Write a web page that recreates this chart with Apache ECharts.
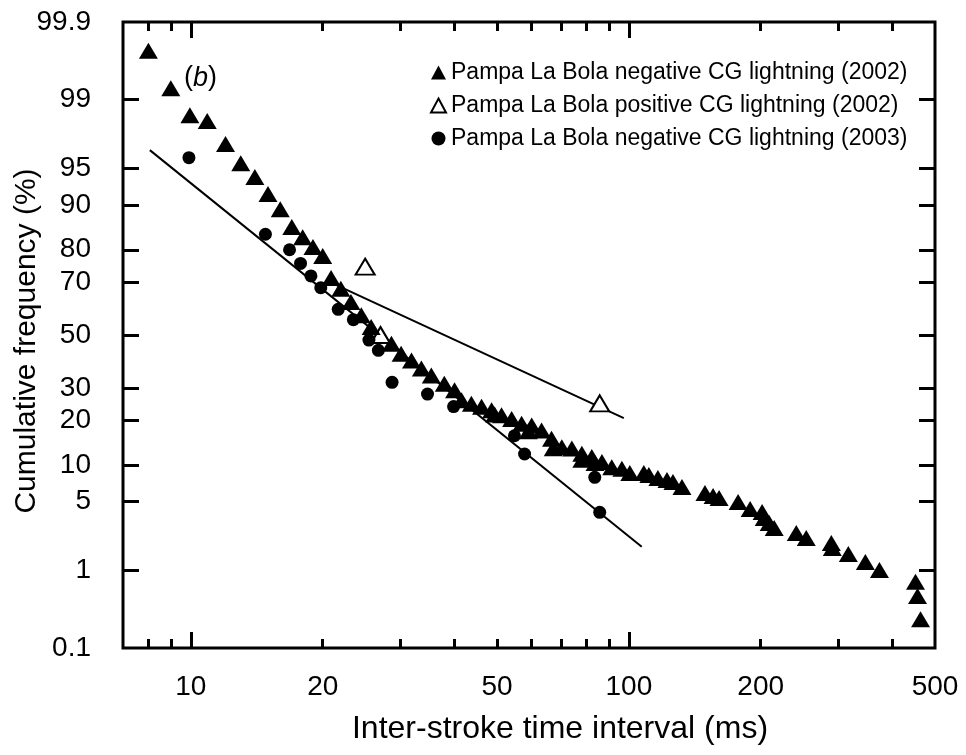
<!DOCTYPE html>
<html>
<head>
<meta charset="utf-8">
<script src="https://cdn.jsdelivr.net/npm/echarts@6/dist/echarts.min.js"></script>
<style>html,body{margin:0;padding:0;background:#fff}#c{width:966px;height:755px}</style>
</head>
<body>
<div id="c"></div>
<script>
// ---- data (x: inter-stroke interval in ms, y: cumulative frequency in %) ----
const xTickLabels = [10, 20, 50, 100, 200, 500];
const xMajorTicks = [10, 100];
const xMinorTicks = [8, 9, 20, 30, 40, 50, 60, 70, 80, 90, 200, 300, 400];
const yTickLabels = [0.1, 1, 5, 10, 20, 30, 50, 70, 80, 90, 95, 99, 99.9];
const yTicks = [1, 5, 10, 20, 30, 50, 70, 80, 90, 95, 99];

const negative2002 = [
  [8.0, 99.75], [9.0, 99.26], [9.95, 98.5], [10.9, 98.27], [12.0, 97.03], [13.0, 95.5],
  [14.0, 94.06], [15.0, 91.8], [16.0, 89.3], [17.0, 85.7], [18.0, 83.3], [19.0, 80.75],
  [20.0, 78.2], [20.9, 71.3], [22.0, 67.6], [23.2, 62.8], [24.5, 57.7], [25.8, 53.1],
  [28.7, 46.6], [30.2, 42.7], [31.9, 40.1], [33.6, 37.0], [35.4, 34.5], [37.9, 31.5],
  [40.0, 29.3], [41.5, 26.0], [43.7, 24.9], [46.1, 23.9], [48.6, 22.9], [49.4, 21.6],
  [51.2, 21.4], [54.0, 20.35], [56.9, 19.05], [58.95, 17.1], [60.0, 18.6], [63.2, 17.3],
  [66.6, 15.3], [67.2, 13.2], [70.3, 13.4], [74.1, 13.1], [78.1, 12.06], [78.1, 10.9],
  [82.3, 11.4], [83.7, 10.3], [86.8, 10.5], [91.4, 9.6], [96.4, 9.34],
  [100.5, 8.66], [108.2, 8.66], [111.1, 8.35], [116.5, 7.9], [122.2, 7.62], [126.1, 7.34],
  [132.2, 6.68], [149.2, 5.94], [155.7, 5.6], [160.7, 5.38], [177.6, 4.96], [189.2, 4.29],
  [201.5, 4.03], [203.7, 3.54], [209.1, 3.17], [214.7, 2.84], [241.1, 2.53], [254.1, 2.25],
  [289.9, 2.0], [291.4, 1.77], [317, 1.53], [346.7, 1.25], [373.4, 1.02], [451.3, 0.74],
  [456.1, 0.5], [463.4, 0.25]
];
const positive2002 = [[25.0, 75], [27.1, 50], [85.8, 25]];
const negative2003 = [
  [9.9, 96], [14.8, 84], [16.8, 80], [17.8, 76], [18.8, 72], [19.8, 68], [21.7, 60],
  [23.5, 56], [25.5, 48], [26.8, 44], [28.8, 32], [34.7, 28], [39.8, 24], [54.8, 16],
  [57.8, 12], [83.6, 8], [85.8, 4]
];
const fitNegative2003 = [[8.06, 96.6], [107, 1.83]];
const fitPositive2002 = [[21.5, 68.9], [97.4, 20.6]];

// ---- scales: log10 for x, normal-probability (probit) for y ----
function probit(p) {
  const a = [-3.969683028665376e+01, 2.209460984245205e+02, -2.759285104469687e+02, 1.383577518672690e+02, -3.066479806614716e+01, 2.506628277459239e+00];
  const b = [-5.447609879822406e+01, 1.615858368580409e+02, -1.556989798598866e+02, 6.680131188771972e+01, -1.328068155288572e+01];
  const c = [-7.784894002430293e-03, -3.223964580411365e-01, -2.400758277161838e+00, -2.549732539343734e+00, 4.374664141464968e+00, 2.938163982698783e+00];
  const d = [7.784695709041462e-03, 3.224671290700398e-01, 2.445134137142996e+00, 3.754408661907416e+00];
  const pl = 0.02425, ph = 1 - pl;
  let q, r;
  if (p < pl) {
    q = Math.sqrt(-2 * Math.log(p));
    return (((((c[0]*q+c[1])*q+c[2])*q+c[3])*q+c[4])*q+c[5]) / ((((d[0]*q+d[1])*q+d[2])*q+d[3])*q+1);
  }
  if (p <= ph) {
    q = p - 0.5; r = q * q;
    return (((((a[0]*r+a[1])*r+a[2])*r+a[3])*r+a[4])*r+a[5])*q / (((((b[0]*r+b[1])*r+b[2])*r+b[3])*r+b[4])*r+1);
  }
  q = Math.sqrt(-2 * Math.log(1 - p));
  return -(((((c[0]*q+c[1])*q+c[2])*q+c[3])*q+c[4])*q+c[5]) / ((((d[0]*q+d[1])*q+d[2])*q+d[3])*q+1);
}
const zOf = pct => probit(pct / 100);
const toPt = d => [Math.log10(d[0]), zOf(d[1])];

const xMin = Math.log10(7), xMax = Math.log10(500);
const yMin = zOf(0.1), yMax = zOf(99.9);
const yLabelVals = yTickLabels.map(zOf);
const yLabelFmt = v => {
  for (let i = 0; i < yLabelVals.length; i++) if (Math.abs(yLabelVals[i] - v) < 1e-6) return String(yTickLabels[i]);
  return '';
};

const FONT = 'Liberation Sans, Arial, sans-serif';
const chart = echarts.init(document.getElementById('c'), null, {renderer: 'canvas'});

function xAxisDef(pos, ticks, len, withLabels) {
  return {
    type: 'value', position: pos, min: xMin, max: xMax,
    splitLine: {show: false}, axisLine: {show: false, onZero: false},
    axisTick: {show: true, inside: true, length: len, customValues: ticks.map(Math.log10), lineStyle: {color: '#000', width: 3}},
    axisLabel: withLabels ? {
      show: true, customValues: xTickLabels.map(Math.log10), margin: 25,
      formatter: v => String(Math.round(Math.pow(10, v))),
      color: '#000', fontSize: 28, fontFamily: FONT
    } : {show: false}
  };
}
function yAxisDef(pos, withLabels) {
  return {
    type: 'value', position: pos, min: yMin, max: yMax,
    splitLine: {show: false}, axisLine: {show: false, onZero: false},
    axisTick: {show: true, inside: true, length: 16, customValues: yTicks.map(zOf), lineStyle: {color: '#000', width: 3}},
    axisLabel: withLabels ? {
      show: true, customValues: yLabelVals, margin: 32, formatter: yLabelFmt,
      color: '#000', fontSize: 28, fontFamily: FONT
    } : {show: false}
  };
}

const option = {
  animation: false,
  backgroundColor: '#fff',
  grid: {left: 123, right: 31, top: 22, bottom: 107, show: true, borderColor: '#000', borderWidth: 3, backgroundColor: 'transparent'},
  xAxis: [
    xAxisDef('bottom', xMajorTicks, 16, true),
    xAxisDef('bottom', xMinorTicks, 9, false),
    xAxisDef('top', xMajorTicks, 16, false),
    xAxisDef('top', xMinorTicks, 9, false)
  ],
  yAxis: [yAxisDef('left', true), yAxisDef('right', false)],
  legend: {
    orient: 'vertical', left: 430, top: 61, padding: 0, itemGap: 10,
    itemWidth: 15, itemHeight: 14,
    textStyle: {color: '#000', fontSize: 23, fontFamily: FONT, lineHeight: 23},
    data: ['Pampa La Bola negative CG lightning (2002)', 'Pampa La Bola positive CG lightning (2002)', 'Pampa La Bola negative CG lightning (2003)']
  },
  graphic: [
    {type: 'text', x: 27, y: 341, rotation: Math.PI / 2, silent: true,
     style: {text: 'Cumulative frequency (%)', fill: '#000', fontSize: 30, fontFamily: FONT, align: 'center', verticalAlign: 'middle'}},
    {type: 'text', x: 560, y: 729, silent: true,
     style: {text: 'Inter-stroke time interval (ms)', fill: '#000', fontSize: 32, fontFamily: FONT, align: 'center', verticalAlign: 'middle'}},
    {type: 'text', x: 184, y: 78, silent: true,
     style: {text: '({i|b})', fill: '#000', fontSize: 27, fontFamily: FONT, align: 'left', verticalAlign: 'middle',
             rich: {i: {fontStyle: 'italic', fontSize: 27, fontFamily: FONT, fill: '#000'}}}}
  ],
  series: [
    {type: 'line', name: 'fit2003', data: fitNegative2003.map(toPt), showSymbol: false, symbol: 'none', silent: true,
     lineStyle: {color: '#000', width: 2}, z: 1},
    {type: 'line', name: 'fitPos2002', data: fitPositive2002.map(toPt), showSymbol: false, symbol: 'none', silent: true,
     lineStyle: {color: '#000', width: 2}, z: 1},
    {type: 'scatter', name: 'Pampa La Bola positive CG lightning (2002)', data: positive2002.map(toPt),
     symbol: 'triangle', symbolSize: [19, 16], itemStyle: {color: '#fff', borderColor: '#000', borderWidth: 2, opacity: 1}, z: 2},
    {type: 'scatter', name: 'Pampa La Bola negative CG lightning (2002)', data: negative2002.map(toPt),
     symbol: 'triangle', symbolSize: [19, 16], itemStyle: {color: '#000', opacity: 1}, z: 3},
    {type: 'scatter', name: 'Pampa La Bola negative CG lightning (2003)', data: negative2003.map(toPt),
     symbol: 'circle', symbolSize: 13, itemStyle: {color: '#000', opacity: 1}, z: 4}
  ]
};
chart.setOption(option);
</script>
</body>
</html>
